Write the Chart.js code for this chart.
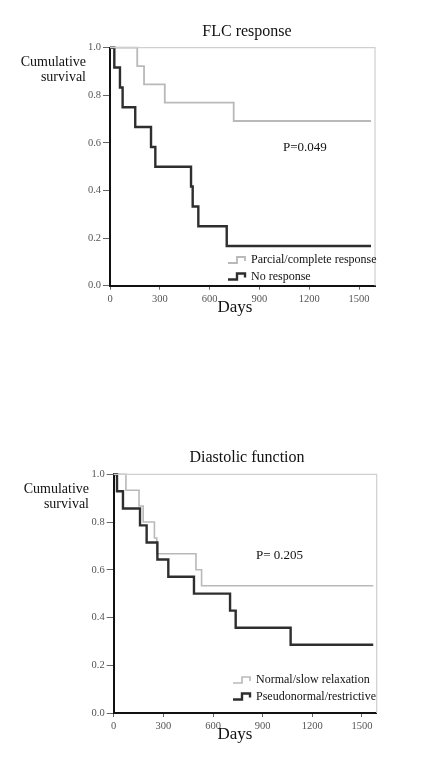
<!DOCTYPE html>
<html>
<head>
<meta charset="utf-8">
<script src="https://cdn.jsdelivr.net/npm/chart.js@4.4.0/dist/chart.umd.min.js"></script>
<style>
  html, body { margin: 0; padding: 0; background: #fff; }
  #wrap { position: relative; width: 422px; height: 779px; }
  canvas { position: absolute; left: 0; }
</style>
</head>
<body>
<div id="wrap">
  <canvas id="flc" width="422" height="320" style="top:0"></canvas>
  <canvas id="dia" width="422" height="339" style="top:440px"></canvas>
</div>
<script>
// tick labels
const dayTicks = [0, 300, 600, 900, 1200, 1500]
const survTicks = [0, 0.2, 0.4, 0.6, 0.8, 1.0]

// FLC response
const flcRespDays = [0, 164, 205, 330, 745, 1572]
const flcRespSurv = [1.0, 0.923, 0.846, 0.769, 0.692, 0.692]
const flcNoneDays = [0, 26, 60, 76, 152, 247, 273, 488, 498, 532, 703, 1572]
const flcNoneSurv = [1.0, 0.917, 0.833, 0.75, 0.667, 0.583, 0.5, 0.417, 0.333, 0.25, 0.167, 0.167]

// Diastolic function
const diaNormDays = [0, 74, 153, 178, 246, 260, 497, 531, 1568]
const diaNormSurv = [1.0, 0.933, 0.867, 0.8, 0.733, 0.667, 0.6, 0.533, 0.533]
const diaPseuDays = [0, 20, 56, 159, 199, 264, 330, 485, 703, 737, 1069, 1568]
const diaPseuSurv = [1.0, 0.929, 0.857, 0.786, 0.714, 0.643, 0.571, 0.5, 0.429, 0.357, 0.286, 0.286]

const LIGHT = '#b9b9b9'
const DARK = '#2e2e2e'
const SERIF = '"Liberation Serif", "Times New Roman", serif'

function toPoints(days, surv) {
  return days.map((d, i) => ({ x: d, y: surv[i] }))
}

// titles, frame, legend and p value drawn on top of the chart
const kmDeco = {
  id: 'kmDeco',
  afterDraw(chart, args, o) {
    const ctx = chart.ctx
    const a = chart.chartArea
    ctx.save()
    // light frame top/right
    ctx.strokeStyle = '#cfcfcf'
    ctx.lineWidth = 1.2
    ctx.beginPath()
    ctx.moveTo(a.left, a.top)
    ctx.lineTo(a.right, a.top)
    ctx.lineTo(a.right, a.bottom)
    ctx.stroke()

    ctx.fillStyle = '#111'
    ctx.textBaseline = 'middle'
    ctx.textAlign = 'center'
    ctx.font = '16px ' + SERIF
    ctx.fillText(o.title, o.titleX, o.titleY)
    ctx.font = '17px ' + SERIF
    ctx.fillText('Days', o.daysX, o.daysY)

    ctx.textAlign = 'right'
    ctx.font = '14px ' + SERIF
    ctx.fillText('Cumulative', o.yLabX, o.yLabY)
    ctx.fillText('survival', o.yLabX, o.yLabY + 15)

    ctx.textAlign = 'left'
    ctx.font = '13px ' + SERIF
    ctx.fillText(o.pText, o.pX, o.pY)

    // legend
    ctx.font = '12px ' + SERIF
    chart.data.datasets.slice().reverse().forEach((ds, i) => {
      const y = o.legY + i * 16.5
      const x = o.legX
      ctx.strokeStyle = ds.borderColor
      ctx.lineWidth = ds.borderWidth
      ctx.beginPath()
      ctx.moveTo(x, y + 3)
      ctx.lineTo(x + 9, y + 3)
      ctx.lineTo(x + 9, y - 3)
      ctx.lineTo(x + 17, y - 3)
      ctx.lineTo(x + 17, y + 1)
      ctx.stroke()
      ctx.fillStyle = '#111'
      ctx.fillText(ds.label, x + 23, y)
    })
    ctx.restore()
  }
}

function kmChart(id, box, series, deco) {
  const yW = 30, xH = 22
  const c = document.getElementById(id)
  return new Chart(c, {
    type: 'line',
    data: {
      datasets: series.map(s => ({
        label: s.label,
        data: toPoints(s.days, s.surv),
        stepped: 'before',
        borderColor: s.color,
        borderWidth: s.width,
        pointRadius: 0,
        fill: false,
        clip: false
      }))
    },
    options: {
      responsive: false,
      animation: false,
      layout: {
        padding: {
          left: box.left - yW,
          right: c.width - box.right,
          top: box.top,
          bottom: c.height - box.bottom - xH
        }
      },
      plugins: { legend: { display: false }, tooltip: { enabled: false }, kmDeco: deco },
      scales: {
        x: {
          type: 'linear', min: 0, max: box.xMax,
          afterBuildTicks: ax => { ax.ticks = dayTicks.map(v => ({ value: v })) },
          afterFit: ax => { ax.height = xH },
          border: { color: '#111', width: 2 },
          grid: { drawOnChartArea: false, tickLength: 4, color: '#666' },
          ticks: { padding: 3, color: '#555', font: { family: SERIF, size: 10.5 }, maxRotation: 0,
                   callback: v => String(v) }
        },
        y: {
          min: 0, max: 1,
          afterBuildTicks: ax => { ax.ticks = survTicks.map(v => ({ value: v })) },
          afterFit: ax => { ax.width = yW },
          border: { color: '#111', width: 2 },
          grid: { drawOnChartArea: false, tickLength: 7, color: '#666' },
          ticks: { padding: 2, color: '#555', font: { family: SERIF, size: 10.5 },
                   callback: v => v.toFixed(1) }
        }
      }
    },
    plugins: [kmDeco]
  })
}

kmChart('flc',
  { left: 110, right: 375, top: 47.7, bottom: 285.7, xMax: 1596 },
  [
    { label: 'No response', days: flcNoneDays, surv: flcNoneSurv, color: DARK, width: 2.4 },
    { label: 'Parcial/complete response', days: flcRespDays, surv: flcRespSurv, color: LIGHT, width: 1.8 }
  ],
  { title: 'FLC response', titleX: 247, titleY: 32, daysX: 235, daysY: 308,
    yLabX: 86, yLabY: 62, pText: 'P=0.049', pX: 283, pY: 148, legX: 228, legY: 260 })

kmChart('dia',
  { left: 113.7, right: 376.7, top: 34.3, bottom: 273, xMax: 1589 },
  [
    { label: 'Pseudonormal/restrictive', days: diaPseuDays, surv: diaPseuSurv, color: DARK, width: 2.4 },
    { label: 'Normal/slow relaxation', days: diaNormDays, surv: diaNormSurv, color: LIGHT, width: 1.6 }
  ],
  { title: 'Diastolic function', titleX: 247, titleY: 17.3, daysX: 235, daysY: 295,
    yLabX: 89, yLabY: 49, pText: 'P= 0.205', pX: 256, pY: 115.7, legX: 233, legY: 240 })
</script>
</body>
</html>
